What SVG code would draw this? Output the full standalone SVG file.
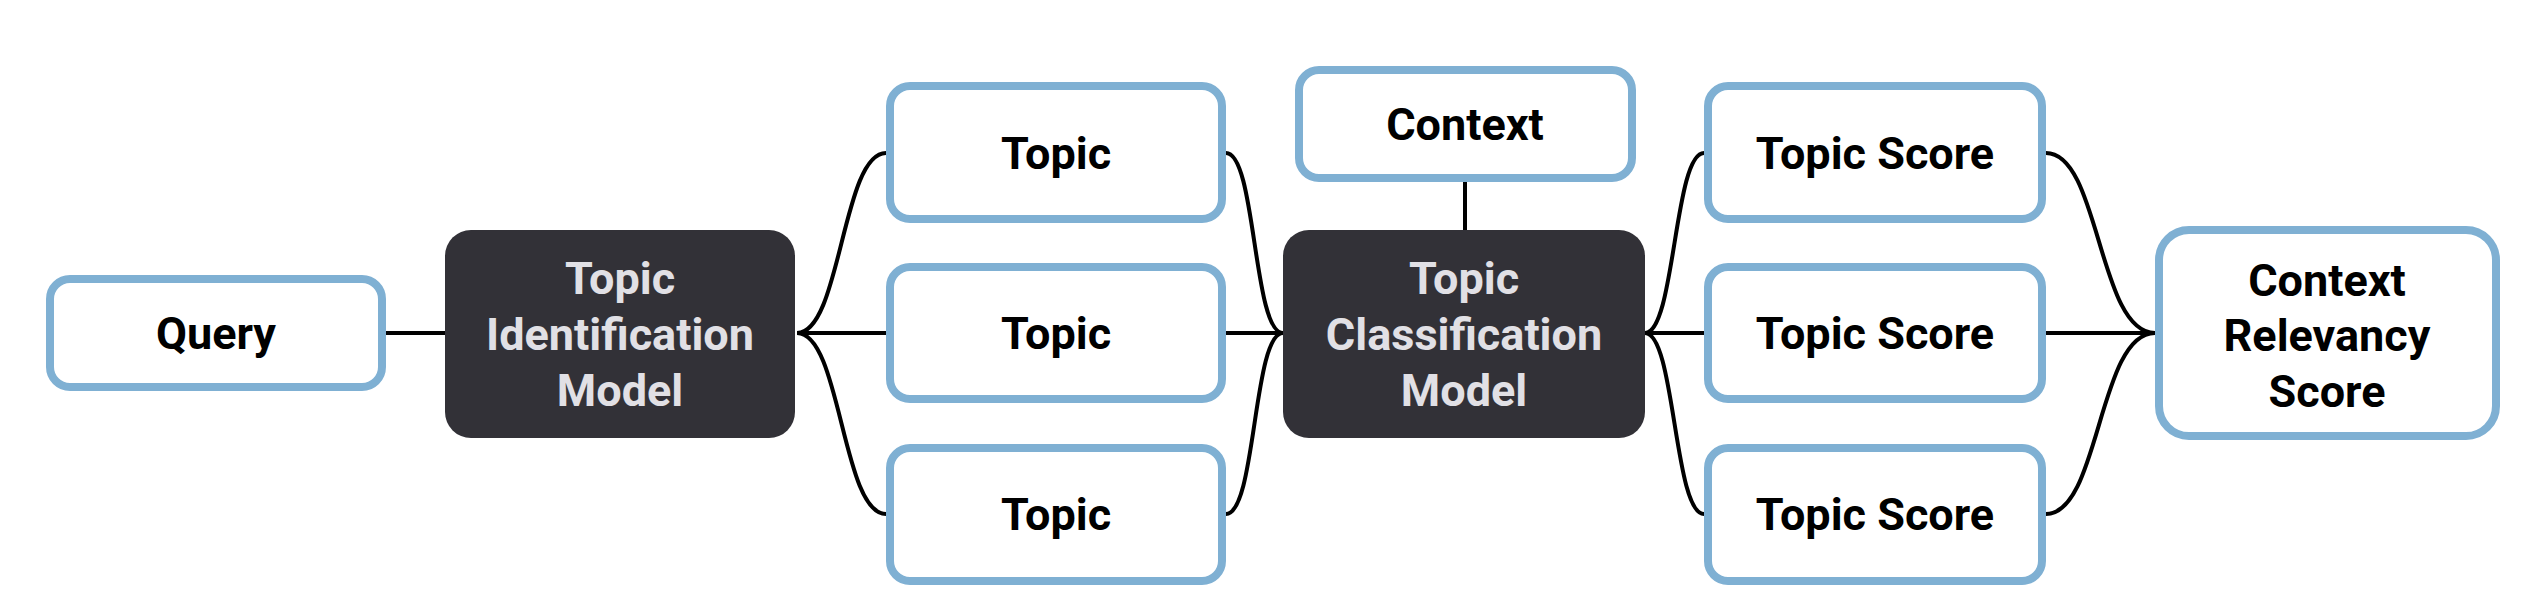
<svg xmlns="http://www.w3.org/2000/svg" width="2544" height="614" viewBox="0 0 2544 614">
<style>
.box{fill:#ffffff;stroke:#7fb0d3;stroke-width:8}
.dark{fill:#323137}
.t{font-family:Roboto,"Liberation Sans",sans-serif;font-weight:700;font-size:45px;text-anchor:middle;fill:#000000}
.tl{font-family:Roboto,"Liberation Sans",sans-serif;font-weight:700;font-size:45px;text-anchor:middle;fill:#e1e0e5}
.c{fill:none;stroke:#000000;stroke-width:4}
</style>
<rect width="2544" height="614" fill="#ffffff"/>
<g id="connectors">
<path class="c" d="M386,333 H445"/>
<path class="c" d="M797,333 C841,333 842,153 886,153"/>
<path class="c" d="M797,333 H886"/>
<path class="c" d="M797,333 C841,333 842,514 886,514"/>
<path class="c" d="M1226,153 C1256,153 1253,333 1283,333"/>
<path class="c" d="M1226,333 H1283"/>
<path class="c" d="M1226,514 C1256,514 1253,333 1283,333"/>
<path class="c" d="M1465,182 V230"/>
<path class="c" d="M1645,333 C1675,333 1674,153 1704,153"/>
<path class="c" d="M1645,333 H1704"/>
<path class="c" d="M1645,333 C1675,333 1674,514 1704,514"/>
<path class="c" d="M2046,153 C2100,153 2098,333 2155,333"/>
<path class="c" d="M2046,333 H2155"/>
<path class="c" d="M2046,514 C2100,514 2098,333 2155,333"/>
</g>
<g id="query">
<rect class="box" x="50" y="279" width="332" height="108" rx="20"/>
<text class="t" x="216" y="349">Query</text>
</g>
<g id="topic-identification-model">
<rect class="dark" x="445" y="230" width="350" height="208" rx="26"/>
<text class="tl" x="620" y="294">Topic</text>
<text class="tl" x="620" y="350">Identification</text>
<text class="tl" x="620" y="406">Model</text>
</g>
<g id="topic-1">
<rect class="box" x="890" y="86" width="332" height="133" rx="20"/>
<text class="t" x="1056" y="169">Topic</text>
</g>
<g id="topic-2">
<rect class="box" x="890" y="267" width="332" height="132" rx="20"/>
<text class="t" x="1056" y="349">Topic</text>
</g>
<g id="topic-3">
<rect class="box" x="890" y="448" width="332" height="133" rx="20"/>
<text class="t" x="1056" y="530">Topic</text>
</g>
<g id="context">
<rect class="box" x="1299" y="70" width="333" height="108" rx="20"/>
<text class="t" x="1465" y="140">Context</text>
</g>
<g id="topic-classification-model">
<rect class="dark" x="1283" y="230" width="362" height="208" rx="26"/>
<text class="tl" x="1464" y="294">Topic</text>
<text class="tl" x="1464" y="350">Classification</text>
<text class="tl" x="1464" y="406">Model</text>
</g>
<g id="topic-score-1">
<rect class="box" x="1708" y="86" width="334" height="133" rx="20"/>
<text class="t" x="1875" y="169">Topic Score</text>
</g>
<g id="topic-score-2">
<rect class="box" x="1708" y="267" width="334" height="132" rx="20"/>
<text class="t" x="1875" y="349">Topic Score</text>
</g>
<g id="topic-score-3">
<rect class="box" x="1708" y="448" width="334" height="133" rx="20"/>
<text class="t" x="1875" y="530">Topic Score</text>
</g>
<g id="context-relevancy-score">
<rect class="box" x="2159" y="230" width="337" height="206" rx="30"/>
<text class="t" x="2327" y="296">Context</text>
<text class="t" x="2327" y="351">Relevancy</text>
<text class="t" x="2327" y="407">Score</text>
</g>
</svg>
